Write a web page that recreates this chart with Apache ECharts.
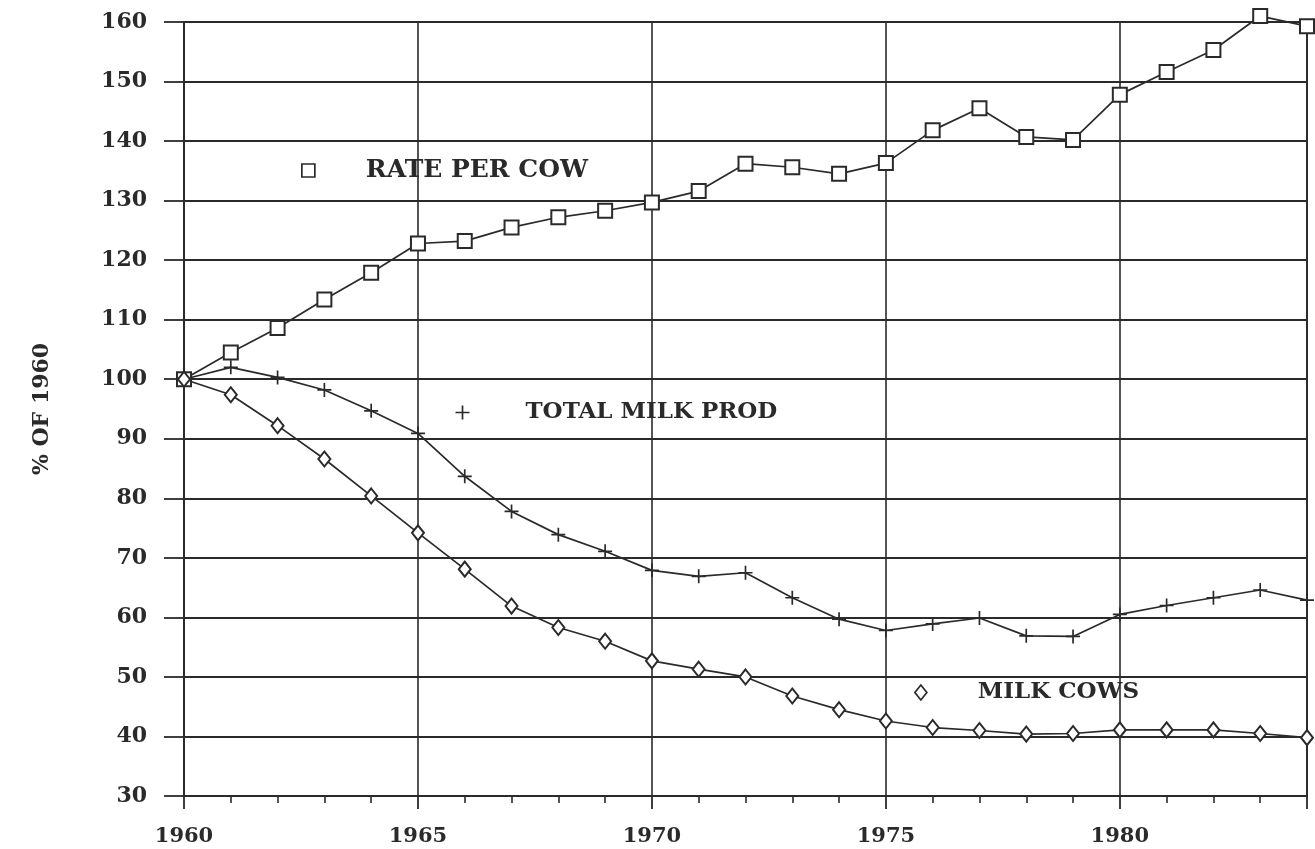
<!DOCTYPE html>
<html>
<head>
<meta charset="utf-8">
<script src="https://cdn.jsdelivr.net/npm/echarts@6/dist/echarts.min.js"></script>
<style>
  html, body { margin: 0; padding: 0; background: #fff; }
  #chart { width: 1315px; height: 849px; }
</style>
</head>
<body>
<div id="chart"></div>
<script>
// values, % of 1960
var years = [1960, 1961, 1962, 1963, 1964, 1965, 1966, 1967, 1968, 1969, 1970, 1971, 1972,
             1973, 1974, 1975, 1976, 1977, 1978, 1979, 1980, 1981, 1982, 1983, 1984];
var ratePerCow = [100, 104.5, 108.6, 113.4, 117.9, 122.8, 123.2, 125.5, 127.2, 128.3, 129.7, 131.6, 136.2,
                  135.6, 134.5, 136.3, 141.8, 145.5, 140.7, 140.2, 147.8, 151.6, 155.3, 161.0, 159.3];
var totalMilkProd = [100, 102.0, 100.3, 98.2, 94.7, 90.9, 83.7, 77.8, 73.9, 71.1, 67.9, 66.9, 67.5,
                     63.3, 59.7, 57.8, 58.9, 59.9, 56.9, 56.8, 60.5, 62.0, 63.3, 64.6, 62.9];
var milkCows = [100, 97.4, 92.2, 86.6, 80.4, 74.2, 68.1, 61.9, 58.3, 56.0, 52.7, 51.3, 50.0,
                46.8, 44.5, 42.6, 41.5, 41.0, 40.4, 40.5, 41.1, 41.1, 41.1, 40.5, 39.8];
var seriesNames = ['RATE PER COW', 'TOTAL MILK PROD', 'MILK COWS'];

var ink = '#2a2a2a';
var font = 'DejaVu Serif';
var plusPath = 'path://M7,0L7,14M0,7L14,7';

function pairs(vals) {
    return years.map(function (y, i) { return [y, vals[i]]; });
}

// the in-plot captions are one small legend each
function note(name, left, top, icon, gap, w, h, size) {
    return {
        data: [{ name: name, icon: icon,
                 itemStyle: { color: icon === plusPath ? 'none' : '#fff', borderColor: ink, borderWidth: 1.7 } }],
        left: left, top: top, padding: 0,
        itemWidth: w, itemHeight: h,
        selectedMode: false,
        formatter: '{g|}{t|' + name + '}',
        textStyle: {
            rich: {
                g: { width: gap },
                t: { fontFamily: font, fontWeight: 'bold', fontSize: size, color: ink }
            }
        }
    };
}

var chart = echarts.init(document.getElementById('chart'));
chart.setOption({
    backgroundColor: '#fff',
    animation: false,
    grid: {
        left: 184, right: 8, top: 22, bottom: 53,
        show: true, borderColor: ink, borderWidth: 1.8
    },
    legend: [
        note(seriesNames[0], 301, 158, 'rect', 46, 13, 13, 25),
        note(seriesNames[1], 453, 401, plusPath, 51, 14, 14, 23),
        note(seriesNames[2], 914, 681, 'diamond', 46, 12, 15, 23)
    ],
    xAxis: {
        type: 'value',
        min: 1960, max: 1984, interval: 5,
        axisLine: { show: true, lineStyle: { color: ink, width: 2 } },
        axisTick: { show: true, length: 13, lineStyle: { color: ink, width: 1.8 } },
        minorTick: { show: true, splitNumber: 5, length: 7, lineStyle: { color: ink, width: 1.6 } },
        splitLine: { show: true, lineStyle: { color: ink, width: 1.6 } },
        axisLabel: {
            showMaxLabel: false,
            margin: 30,
            formatter: function (v) { return String(v); },
            fontFamily: font, fontWeight: 'bold', fontSize: 21, color: ink
        }
    },
    yAxis: {
        type: 'value',
        min: 30, max: 160, interval: 10,
        name: '% OF 1960',
        nameLocation: 'middle',
        nameRotate: 90,
        nameGap: 131,
        nameTextStyle: { fontFamily: font, fontWeight: 'bold', fontSize: 22, color: ink },
        axisLine: { show: true, lineStyle: { color: ink, width: 2 } },
        axisTick: { show: true, length: 20, lineStyle: { color: ink, width: 1.8 } },
        splitLine: { show: true, lineStyle: { color: ink, width: 1.8 } },
        axisLabel: {
            margin: 37,
            fontFamily: font, fontWeight: 'bold', fontSize: 22, color: ink
        }
    },
    series: [
        {
            name: seriesNames[0], type: 'line',
            data: pairs(ratePerCow),
            clip: false,
            symbol: 'emptyRect', symbolSize: 14,
            itemStyle: { color: ink, borderColor: ink, borderWidth: 1.7 },
            lineStyle: { color: ink, width: 1.7 }
        },
        {
            name: seriesNames[1], type: 'line',
            data: pairs(totalMilkProd),
            clip: false,
            symbol: plusPath, symbolSize: 14,
            itemStyle: { color: 'none', borderColor: ink, borderWidth: 1.7 },
            lineStyle: { color: ink, width: 1.7 }
        },
        {
            name: seriesNames[2], type: 'line',
            data: pairs(milkCows),
            clip: false,
            symbol: 'emptyDiamond', symbolSize: [12, 15],
            itemStyle: { color: ink, borderColor: ink, borderWidth: 1.7 },
            lineStyle: { color: ink, width: 1.7 }
        }
    ]
});
</script>
</body>
</html>
